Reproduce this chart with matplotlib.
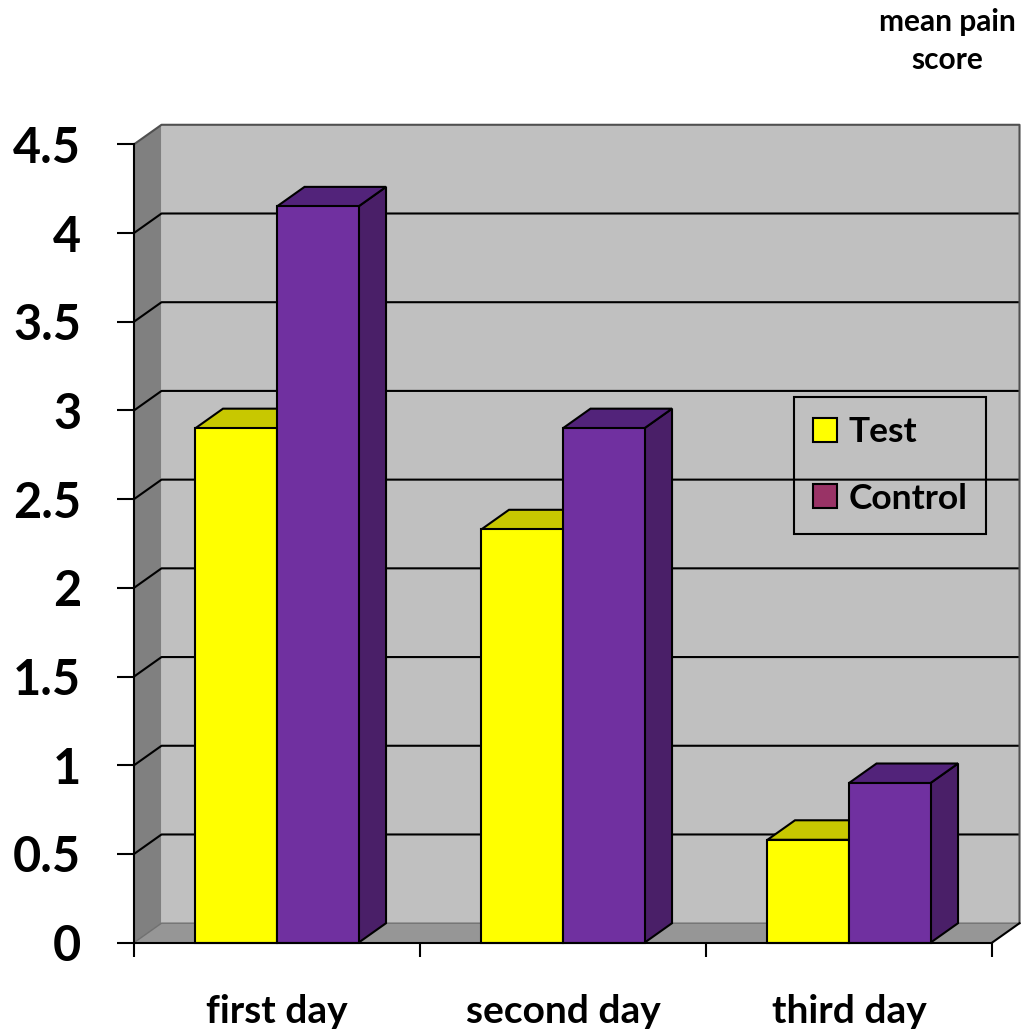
import matplotlib
matplotlib.use("Agg")
import matplotlib.pyplot as plt
from matplotlib.patches import Rectangle, Polygon, Patch

# Data
categories = ["first day", "second day", "third day"]
test_scores = [2.9, 2.33, 0.58]
control_scores = [4.15, 2.9, 0.9]
y_ticks = [0, 0.5, 1, 1.5, 2, 2.5, 3, 3.5, 4, 4.5]
y_tick_labels = ["0", "0.5", "1", "1.5", "2", "2.5", "3", "3.5", "4", "4.5"]

plt.rcParams["font.family"] = ["Lato", "DejaVu Sans"]
plt.rcParams["font.weight"] = "bold"

W, H = 1025, 1033
fig = plt.figure(figsize=(W / 100, H / 100), dpi=100)
ax = fig.add_axes([134 / W, 1 - 942.7 / H, (992 - 134) / W, (942.7 - 144.3) / H])
ax.set_xlim(0, 3)
ax.set_ylim(0, 4.5)
ax.set_facecolor("none")

# depth of the pseudo-3D box, in data units
dx, dy = 0.0962, 0.110
ymax = 4.5
ncat = len(categories)

# walls and floor
ax.add_patch(Rectangle((dx, dy), ncat, ymax, fc="#c0c0c0", ec="none", zorder=0.2, clip_on=False))
ax.add_patch(Polygon([(0, 0), (0, ymax), (dx, ymax + dy), (dx, dy)], closed=True,
                     fc="#808080", ec="none", zorder=0.3, clip_on=False))
ax.add_patch(Polygon([(0, 0), (ncat, 0), (ncat + dx, dy), (dx, dy)], closed=True,
                     fc="#969696", ec="none", zorder=0.3, clip_on=False))

# gridlines on side and back wall
for v in y_ticks[1:-1]:
    ax.plot([0, dx, ncat + dx], [v, v + dy, v + dy], color="black", lw=1.5,
            zorder=0.5, clip_on=False, solid_capstyle="butt")
ax.plot([0, dx, ncat + dx, ncat + dx], [ymax, ymax + dy, ymax + dy, dy], color="#505050",
        lw=1.5, zorder=0.5, clip_on=False)
ax.plot([0, dx, ncat + dx], [0, dy, dy], color="#707070", lw=1.0, zorder=0.5, clip_on=False)
ax.plot([ncat, ncat + dx], [0, dy], color="black", lw=1.5, zorder=0.5, clip_on=False)

# bars
bw = 0.285
front_cols = ["#ffff00", "#7030a0"]
top_cols = ["#c8c800", "#52237a"]
side_cols = ["#a0a000", "#4a1f68"]
series = [test_scores, control_scores]
names = ["Test", "Control"]
for i in range(ncat):
    for s, vals in enumerate(series):
        x0 = i + 0.5 - bw + s * bw
        v = vals[i]
        z = 1 + i * 0.1 + s * 0.02
        ax.add_patch(Polygon([(x0 + bw, 0), (x0 + bw, v), (x0 + bw + dx, v + dy), (x0 + bw + dx, dy)],
                             closed=True, fc=side_cols[s], ec="black", lw=1.5, zorder=z,
                             clip_on=False, joinstyle="miter"))
        ax.add_patch(Polygon([(x0, v), (x0 + bw, v), (x0 + bw + dx, v + dy), (x0 + dx, v + dy)],
                             closed=True, fc=top_cols[s], ec="black", lw=1.5, zorder=z,
                             clip_on=False, joinstyle="miter"))
        ax.bar([x0], [v], width=bw, align="edge", color=front_cols[s], edgecolor="black",
               linewidth=1.5, zorder=z + 0.01, clip_on=False)

# axes
for sp in ["top", "right"]:
    ax.spines[sp].set_visible(False)
for sp in ["left", "bottom"]:
    ax.spines[sp].set_linewidth(1.5)
    ax.spines[sp].set_zorder(5)
ax.set_yticks(y_ticks)
ax.set_yticklabels(y_tick_labels, fontsize=35, fontweight="bold")
ax.tick_params(axis="y", direction="out", length=12, width=1.5, pad=26)
ax.set_xticks([0, 1, 2, 3])
ax.set_xticklabels([])
ax.tick_params(axis="x", which="major", direction="out", length=10, width=1.5)
ax.set_xticks([i + 0.5 for i in range(ncat)], minor=True)
ax.set_xticklabels(categories, minor=True, fontsize=28, fontweight="bold")
ax.tick_params(axis="x", which="minor", length=0, pad=37)

# legend
handles = [Patch(fc="#ffff00", ec="black", lw=1.5), Patch(fc="#993366", ec="black", lw=1.5)]
leg = fig.legend(handles, names, loc="upper left", bbox_to_anchor=(794 / W, 1 - 397 / H),
                 bbox_transform=fig.transFigure, borderaxespad=0,
                 prop={"weight": "bold", "size": 25.5}, handlelength=0.66, handleheight=0.66,
                 handletextpad=0.33, labelspacing=0.98, borderpad=0.54, fancybox=False,
                 framealpha=1)
leg.get_frame().set_facecolor("none")
leg.get_frame().set_edgecolor("black")
leg.get_frame().set_linewidth(1.5)
leg.set_zorder(10)

# axis title
fig.text(947 / W, 1 - 41 / H, "mean pain\nscore", ha="center", va="center",
         fontsize=21.5, fontweight="bold", linespacing=1.4)

fig.savefig("out.png", dpi=100)
